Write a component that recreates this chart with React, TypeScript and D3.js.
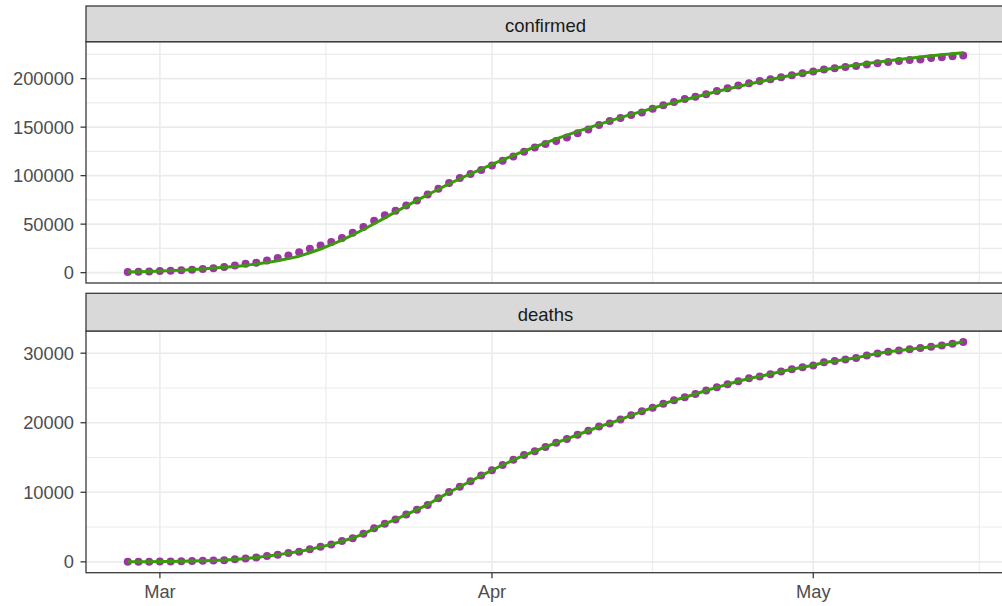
import * as d3 from "d3";
import React, { useEffect, useRef } from "react";

// daily values, 2020-02-27 .. 2020-05-15
const firstDay = "2020-02-27";

const confirmedObs = [
  650, 888, 1128,
  1694, 2036, 2502, 3089, 3858, 4636, 5883, 7375, 9172, 10149, 12462, 15113, 17660, 21157, 24747, 27980,
  31506, 35713, 41035, 47021, 53578, 59138, 63927, 69176, 74386, 80539, 86498, 92472, 97689, 101739, 105792,
  110574, 115242, 119827, 124632, 128948, 132547, 135586, 139422, 143626, 147577, 152271, 156363, 159516,
  162488, 165155, 168941, 172434, 175925, 178972, 181228, 183957, 187327, 189973, 192994, 195351, 197675,
  199414, 201505, 203591, 205463,
  207428, 209328, 210717, 211938, 213013, 214457, 215858, 217185, 218268, 219070, 219814, 221216, 222104,
  223096, 223885,
];

const confirmedFit = [
  700, 950, 1250,
  1650, 2100, 2600, 3200, 3900, 4700, 5500, 6400, 7500, 8900, 10500, 12300, 14500, 17000, 20500, 24400,
  28800, 33600, 38900, 44500, 50400, 56500, 62600, 68600, 74500, 80300, 86000, 91500, 96800, 101900, 106800,
  111500, 116200, 120800, 125200, 129500, 133700, 137800, 141800, 145600, 149300, 152900, 156400, 159800,
  163100, 166300, 169400, 172400, 175350, 178250, 181100, 183900, 186650, 189350, 191950, 194450, 196850,
  199150, 201350, 203450, 205450,
  207400, 209200, 210900, 212500, 214050, 215550, 217000, 218400, 219750, 221050, 222300, 223500, 224650,
  225750, 226750,
];

const deathsObs = [
  17, 21, 29,
  34, 52, 79, 107, 148, 197, 233, 366, 463, 631, 827, 1016, 1266, 1441, 1809, 2158, 2503, 2978, 3405, 4032,
  4825, 5476, 6077, 6820, 7503, 8165, 9134, 10023, 10779, 11591, 12428,
  13155, 13915, 14681, 15362, 15887, 16523, 17127, 17669, 18279, 18849, 19468, 19899, 20465, 21067, 21645,
  22170, 22745, 23227, 23660, 24114, 24648, 25085, 25549, 25969, 26384, 26644, 26977, 27359, 27682, 27967,
  28236, 28710, 28884, 29079, 29315, 29684, 29958, 30201, 30395, 30560, 30739, 30911, 31106, 31368, 31610,
];

const deathsFit = [
  17, 22, 29,
  36, 52, 78, 108, 148, 197, 250, 350, 465, 625, 820, 1020, 1250, 1470, 1800, 2150, 2510, 2960, 3420, 4030,
  4780, 5450, 6090, 6800, 7500, 8240, 9120, 10000, 10790, 11590, 12400,
  13170, 13920, 14650, 15320, 15900, 16520, 17120, 17680, 18270, 18850, 19440, 19920, 20480, 21060, 21630,
  22170, 22720, 23220, 23670, 24130, 24630, 25090, 25540, 25970, 26370, 26670, 27000, 27360, 27680, 27970,
  28270, 28660, 28880, 29090, 29330, 29670, 29950, 30200, 30400, 30570, 30750, 30920, 31120, 31370, 31610,
];

const panelNames = ["confirmed", "deaths"];
const confirmedTicks = [0, 50000, 100000, 150000, 200000];
const deathsTicks = [0, 10000, 20000, 30000];
const monthBreaks = ["2020-03-01", "2020-04-01", "2020-05-01", "2020-06-01"];
const monthLabels = ["Mar", "Apr", "May"];

const FONT = "'Liberation Sans', Arial, sans-serif";

const App = () => {
  const svgRef = useRef<SVGSVGElement>(null);

  useEffect(() => {
    const width = 1002;
    const height = 606;
    const left = 86;
    const right = 1005;
    const layout = [
      { stripTop: 6, top: 41.7, bottom: 283 },
      { stripTop: 293.3, top: 331, bottom: 572.7 },
    ];

    const svg = d3.select(svgRef.current).attr("width", width).attr("height", height);
    svg.selectAll("*").remove();

    const start = new Date(firstDay + "T00:00:00Z");
    const dates = confirmedObs.map((_, i) => d3.utcDay.offset(start, i));

    // x scale with ggplot style 5% expansion
    const span = dates[dates.length - 1].getTime() - dates[0].getTime();
    const xScale = d3.scaleUtc()
      .domain([new Date(dates[0].getTime() - span * 0.05), new Date(dates[dates.length - 1].getTime() + span * 0.05)])
      .range([left, right]);

    const majorX = monthBreaks.map(s => new Date(s + "T00:00:00Z"));
    const minorX = majorX.slice(1).map((d, i) => new Date((d.getTime() + majorX[i].getTime()) / 2));

    const series = [
      { obs: confirmedObs, fit: confirmedFit, ticks: confirmedTicks },
      { obs: deathsObs, fit: deathsFit, ticks: deathsTicks },
    ];

    series.forEach((s, k) => {
      const p = layout[k];
      const all = s.obs.concat(s.fit);
      const lo = d3.min(all)!;
      const hi = d3.max(all)!;
      const pad = (hi - lo) * 0.05;
      const yScale = d3.scaleLinear().domain([lo - pad, hi + pad]).range([p.bottom, p.top]);

      const step = s.ticks[1] - s.ticks[0];
      const ext = [s.ticks[0] - step, ...s.ticks, s.ticks[s.ticks.length - 1] + step];
      const minorY = ext.slice(1).map((v, i) => (v + ext[i]) / 2)
        .filter(v => v > lo - pad && v < hi + pad);

      const g = svg.append("g");

      g.append("rect")
        .attr("x", left).attr("y", p.top)
        .attr("width", right - left).attr("height", p.bottom - p.top)
        .attr("fill", "#ffffff");

      // minor grid
      g.selectAll(".minor-y").data(minorY).enter().append("line")
        .attr("x1", left).attr("x2", right)
        .attr("y1", d => yScale(d)).attr("y2", d => yScale(d))
        .attr("stroke", "#EBEBEB").attr("stroke-width", 1.1);
      g.selectAll(".minor-x").data(minorX).enter().append("line")
        .attr("x1", d => xScale(d)).attr("x2", d => xScale(d))
        .attr("y1", p.top).attr("y2", p.bottom)
        .attr("stroke", "#EBEBEB").attr("stroke-width", 1.1);

      // major grid
      g.selectAll(".major-y").data(s.ticks).enter().append("line")
        .attr("x1", left).attr("x2", right)
        .attr("y1", d => yScale(d)).attr("y2", d => yScale(d))
        .attr("stroke", "#EBEBEB").attr("stroke-width", 1.6);
      g.selectAll(".major-x").data(majorX).enter().append("line")
        .attr("x1", d => xScale(d)).attr("x2", d => xScale(d))
        .attr("y1", p.top).attr("y2", p.bottom)
        .attr("stroke", "#EBEBEB").attr("stroke-width", 1.6);

      // observed points
      g.selectAll(".pt").data(s.obs).enter().append("circle")
        .attr("cx", (_, i) => xScale(dates[i]))
        .attr("cy", d => yScale(d))
        .attr("r", 4)
        .attr("fill", "#9A36A2");

      // fitted line
      const line = d3.line<number>()
        .x((_, i) => xScale(dates[i]))
        .y(d => yScale(d));
      g.append("path")
        .datum(s.fit)
        .attr("fill", "none")
        .attr("stroke", "#3A9A0C")
        .attr("stroke-width", 3)
        .attr("stroke-linejoin", "round")
        .attr("d", line);

      // panel border
      g.append("rect")
        .attr("x", left).attr("y", p.top)
        .attr("width", right - left).attr("height", p.bottom - p.top)
        .attr("fill", "none").attr("stroke", "#3a3a3a").attr("stroke-width", 1.3);

      // strip
      g.append("rect")
        .attr("x", left).attr("y", p.stripTop)
        .attr("width", right - left).attr("height", p.top - p.stripTop)
        .attr("fill", "#D9D9D9").attr("stroke", "#3a3a3a").attr("stroke-width", 1.3);
      g.append("text")
        .attr("x", (left + right) / 2)
        .attr("y", (p.stripTop + p.top) / 2 + 2)
        .attr("dy", "0.35em")
        .attr("text-anchor", "middle")
        .attr("font-family", FONT)
        .attr("font-size", 18.5)
        .attr("fill", "#1A1A1A")
        .text(panelNames[k]);

      // y axis
      const ya = g.append("g");
      ya.selectAll("line").data(s.ticks).enter().append("line")
        .attr("x1", left - 5.5).attr("x2", left)
        .attr("y1", d => yScale(d)).attr("y2", d => yScale(d))
        .attr("stroke", "#3a3a3a").attr("stroke-width", 1.3);
      ya.selectAll("text").data(s.ticks).enter().append("text")
        .attr("x", left - 12)
        .attr("y", d => yScale(d))
        .attr("dy", "0.36em")
        .attr("text-anchor", "end")
        .attr("font-family", FONT)
        .attr("font-size", 18.3)
        .attr("fill", "#4D4D4D")
        .text(d => String(d));

      if (k === layout.length - 1) {
        const xa = g.append("g");
        const shown = majorX.filter(d => xScale(d) <= right);
        xa.selectAll("line").data(shown).enter().append("line")
          .attr("x1", d => xScale(d)).attr("x2", d => xScale(d))
          .attr("y1", p.bottom).attr("y2", p.bottom + 5.5)
          .attr("stroke", "#3a3a3a").attr("stroke-width", 1.3);
        xa.selectAll("text").data(shown).enter().append("text")
          .attr("x", d => xScale(d))
          .attr("y", p.bottom + 18.5)
          .attr("dy", "0.35em")
          .attr("text-anchor", "middle")
          .attr("font-family", FONT)
          .attr("font-size", 18.3)
          .attr("fill", "#4D4D4D")
          .text((_, i) => monthLabels[i]);
      }
    });
  }, []);

  return (
    <svg
      ref={svgRef}
      style={{ position: "fixed", left: 0, top: 0, background: "#ffffff", display: "block" }}
    />
  );
};

export default App;
